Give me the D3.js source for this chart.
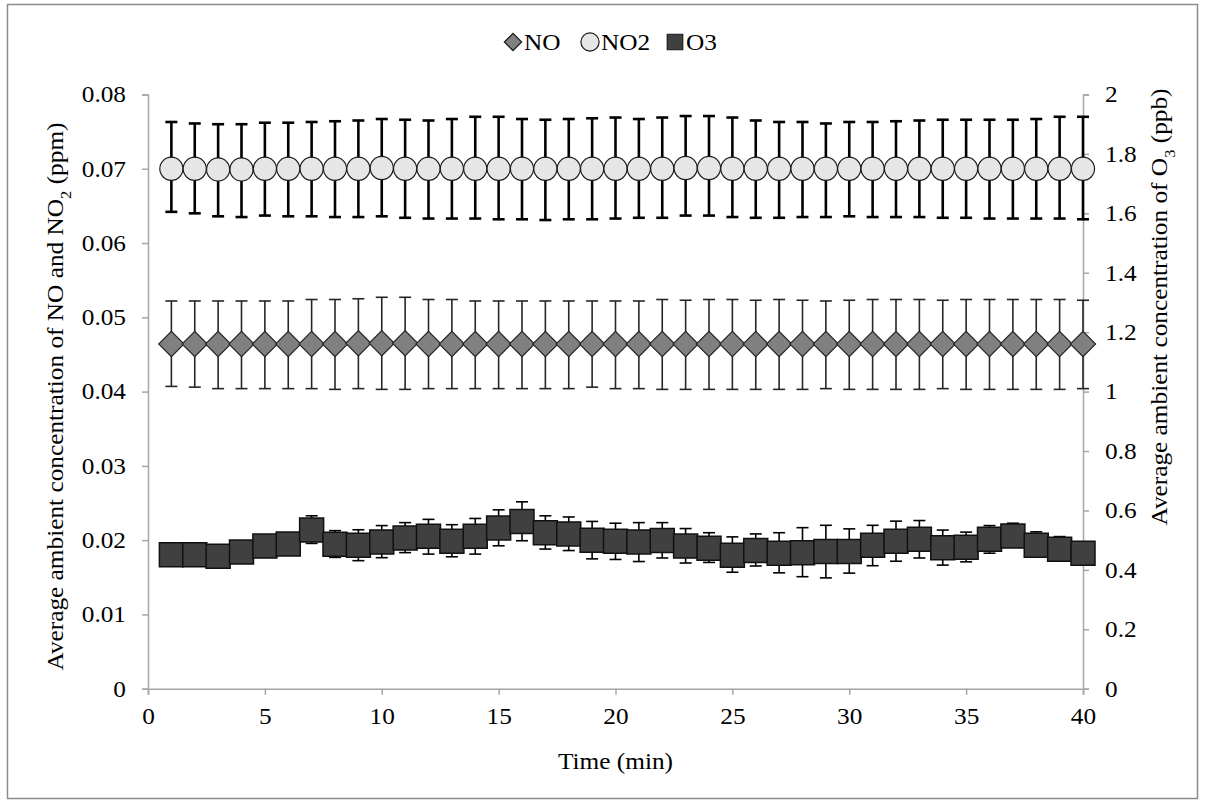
<!DOCTYPE html>
<html>
<head>
<meta charset="utf-8">
<script src="https://cdn.jsdelivr.net/npm/d3@7/dist/d3.min.js"></script>
<style>
  body { margin: 0; background: #fff; }
  text { font-family: 'Liberation Serif', 'Times New Roman', serif; fill: #000; }
</style>
</head>
<body>
<div id="chart"></div>
<script>
// time (min)
var time = [1, 2, 3, 4, 5, 6, 7, 8, 9, 10, 11, 12, 13, 14, 15, 16, 17, 18, 19, 20,
  21, 22, 23, 24, 25, 26, 27, 28, 29, 30, 31, 32, 33, 34, 35, 36, 37, 38, 39, 40]

// NO (ppm), left axis
var no = [0.0464, 0.0464, 0.0464, 0.0464, 0.0464, 0.0464, 0.0464, 0.0464, 0.0465, 0.0465,
  0.0465, 0.0464, 0.0464, 0.0464, 0.0464, 0.0464, 0.0464, 0.0464, 0.0464, 0.0464,
  0.0464, 0.0464, 0.0464, 0.0464, 0.0464, 0.0464, 0.0464, 0.0464, 0.0464, 0.0464,
  0.0464, 0.0464, 0.0464, 0.0464, 0.0464, 0.0464, 0.0464, 0.0464, 0.0464, 0.0464]
var noUp = [0.0058, 0.0058, 0.0058, 0.0058, 0.0058, 0.0058, 0.0060, 0.0060, 0.0060, 0.0062,
  0.0062, 0.0060, 0.0060, 0.0058, 0.0058, 0.0058, 0.0058, 0.0058, 0.0058, 0.0058,
  0.0058, 0.0060, 0.0059, 0.0060, 0.0060, 0.0059, 0.0060, 0.0059, 0.0058, 0.0059,
  0.0060, 0.0060, 0.0060, 0.0059, 0.0060, 0.0060, 0.0060, 0.0060, 0.0060, 0.0059]
var noDown = [0.0057, 0.0058, 0.0060, 0.0060, 0.0060, 0.0060, 0.0060, 0.0061, 0.0061, 0.0062,
  0.0062, 0.0060, 0.0060, 0.0060, 0.0060, 0.0060, 0.0060, 0.0060, 0.0058, 0.0060,
  0.0060, 0.0061, 0.0061, 0.0061, 0.0061, 0.0061, 0.0061, 0.0061, 0.0060, 0.0061,
  0.0061, 0.0061, 0.0061, 0.0060, 0.0061, 0.0061, 0.0061, 0.0061, 0.0061, 0.0060]

// NO2 (ppm), left axis
var no2 = [0.0700, 0.0700, 0.0699, 0.0699, 0.0700, 0.0700, 0.0700, 0.0700, 0.0700, 0.0701,
  0.0700, 0.0700, 0.0700, 0.0700, 0.0700, 0.0700, 0.0700, 0.0700, 0.0700, 0.0700,
  0.0700, 0.0700, 0.0701, 0.0701, 0.0700, 0.0700, 0.0700, 0.0700, 0.0700, 0.0700,
  0.0700, 0.0700, 0.0700, 0.0700, 0.0700, 0.0700, 0.0700, 0.0700, 0.0700, 0.0700]
var no2Up = [0.0063, 0.0061, 0.0061, 0.0061, 0.0062, 0.0062, 0.0063, 0.0064, 0.0065, 0.0066,
  0.0066, 0.0065, 0.0067, 0.0070, 0.0070, 0.0067, 0.0066, 0.0067, 0.0068, 0.0069,
  0.0067, 0.0069, 0.0070, 0.0070, 0.0069, 0.0065, 0.0063, 0.0063, 0.0061, 0.0063,
  0.0063, 0.0064, 0.0065, 0.0066, 0.0066, 0.0066, 0.0066, 0.0067, 0.0070, 0.0070]
var no2Down = [0.0058, 0.0060, 0.0063, 0.0064, 0.0063, 0.0064, 0.0064, 0.0065, 0.0065, 0.0065,
  0.0066, 0.0067, 0.0067, 0.0067, 0.0068, 0.0068, 0.0069, 0.0068, 0.0068, 0.0067,
  0.0066, 0.0066, 0.0064, 0.0064, 0.0065, 0.0066, 0.0066, 0.0065, 0.0065, 0.0064,
  0.0065, 0.0065, 0.0065, 0.0066, 0.0066, 0.0067, 0.0067, 0.0067, 0.0067, 0.0068]

// O3 (ppb), right axis
var o3 = [0.451, 0.451, 0.446, 0.460, 0.480, 0.487, 0.534, 0.486, 0.483, 0.494,
  0.507, 0.513, 0.496, 0.513, 0.541, 0.563, 0.525, 0.521, 0.500, 0.496,
  0.494, 0.499, 0.480, 0.473, 0.449, 0.465, 0.456, 0.458, 0.462, 0.462,
  0.483, 0.496, 0.503, 0.474, 0.476, 0.503, 0.514, 0.483, 0.469, 0.456]
var o3Up = [0.030, 0.030, 0.030, 0.030, 0.030, 0.030, 0.048, 0.046, 0.052, 0.055,
  0.052, 0.057, 0.056, 0.060, 0.061, 0.066, 0.057, 0.057, 0.063, 0.061,
  0.065, 0.060, 0.059, 0.052, 0.062, 0.056, 0.069, 0.084, 0.088, 0.076,
  0.067, 0.068, 0.063, 0.060, 0.051, 0.046, 0.043, 0.045, 0.043, 0.030]
var o3Down = [0.030, 0.030, 0.030, 0.030, 0.030, 0.030, 0.045, 0.044, 0.052, 0.053,
  0.049, 0.060, 0.052, 0.060, 0.060, 0.065, 0.055, 0.056, 0.063, 0.061,
  0.066, 0.059, 0.057, 0.048, 0.057, 0.052, 0.066, 0.081, 0.089, 0.073,
  0.069, 0.067, 0.063, 0.058, 0.049, 0.047, 0.030, 0.030, 0.030, 0.030]

var xTicks = [0, 5, 10, 15, 20, 25, 30, 35, 40]
var leftTicks = [0, 0.01, 0.02, 0.03, 0.04, 0.05, 0.06, 0.07, 0.08]
var rightTicks = [0, 0.2, 0.4, 0.6, 0.8, 1, 1.2, 1.4, 1.6, 1.8, 2]
var legendNames = ['NO', 'NO2', 'O3']

var W = 1205
var H = 803
var margin = {top: 94.5, right: 122, bottom: 114.3, left: 148}
var width = W - margin.left - margin.right
var height = H - margin.top - margin.bottom
var axisColor = '#a6a6a6'
var font = 23
var widen = 1.1

// the reference type runs a little wider than Times; stretch each text along its run
function stretch (sel) {
  sel.each(function () {
    var len = this.getComputedTextLength()
    d3.select(this).attr('textLength', len * widen).attr('lengthAdjust', 'spacingAndGlyphs')
  })
}

var svg = d3.select('#chart')
  .append('svg')
  .attr('width', W)
  .attr('height', H)

// chart border
svg.append('rect')
  .attr('x', 7.5)
  .attr('y', 4.5)
  .attr('width', W - 15)
  .attr('height', H - 9)
  .attr('fill', 'none')
  .attr('stroke', '#8c8c8c')
  .attr('stroke-width', 1.5)

var g = svg.append('g')
  .attr('transform', 'translate(' + margin.left + ',' + margin.top + ')')

var x = d3.scaleLinear().domain([0, 40]).range([0, width])
var yL = d3.scaleLinear().domain([0, 0.08]).range([height, 0])
var yR = d3.scaleLinear().domain([0, 2]).range([height, 0])

// axes
var xAxis = g.append('g')
  .attr('transform', 'translate(0,' + height + ')')
  .call(d3.axisBottom(x).tickValues(xTicks).tickSize(6).tickPadding(13).tickFormat(d3.format('d')))
var lAxis = g.append('g')
  .call(d3.axisLeft(yL).tickValues(leftTicks).tickSize(6).tickPadding(16)
    .tickFormat(function (d) { return d === 0 ? '0' : d3.format('.2f')(d) }))
var rAxis = g.append('g')
  .attr('transform', 'translate(' + width + ',0)')
  .call(d3.axisRight(yR).tickValues(rightTicks).tickSize(6).tickPadding(16)
    .tickFormat(function (d) { return String(+d.toFixed(1)) }))

;[xAxis, lAxis, rAxis].forEach(function (a) {
  a.select('.domain').attr('stroke', axisColor).attr('stroke-width', 1.5)
  a.selectAll('.tick line').attr('stroke', axisColor).attr('stroke-width', 1.5)
  a.selectAll('.tick text')
    .attr('fill', '#000')
    .style('font-family', "'Liberation Serif', serif")
    .style('font-size', font + 'px')
    .call(stretch)
})
xAxis.selectAll('.tick text').attr('dy', '0.71em')

// axis titles
g.append('text')
  .attr('x', width / 2)
  .attr('y', height + 80)
  .attr('text-anchor', 'middle')
  .style('font-size', font + 'px')
  .text('Time (min)')
  .call(stretch)

var lt = g.append('text')
  .attr('transform', 'translate(' + (63 - margin.left) + ',' + (302) + ') rotate(-90)')
  .attr('text-anchor', 'middle')
  .style('font-size', font + 'px')
lt.append('tspan').text('Average ambient concentration of NO and NO')
lt.append('tspan').attr('baseline-shift', 'sub').style('font-size', '15px').text('2')
lt.append('tspan').text(' (ppm)')
lt.call(stretch)

var rt = g.append('text')
  .attr('transform', 'translate(' + (width + 84) + ',' + (-6) + ') rotate(-90)')
  .attr('text-anchor', 'end')
  .style('font-size', font + 'px')
rt.append('tspan').text('Average ambient concentration of O')
rt.append('tspan').attr('baseline-shift', 'sub').style('font-size', '15px').text('3')
rt.append('tspan').text(' (ppb)')
rt.call(stretch)

// error bars
function errorBars (vals, up, down, scale, color, sw) {
  var eg = g.append('g')
  time.forEach(function (t, i) {
    var cx = x(t)
    var y1 = scale(vals[i] + up[i])
    var y2 = scale(vals[i] - down[i])
    eg.append('line').attr('x1', cx).attr('x2', cx).attr('y1', y1).attr('y2', y2)
      .attr('stroke', color).attr('stroke-width', sw)
    eg.append('line').attr('x1', cx - 6).attr('x2', cx + 6).attr('y1', y1).attr('y2', y1)
      .attr('stroke', color).attr('stroke-width', sw)
    eg.append('line').attr('x1', cx - 6).attr('x2', cx + 6).attr('y1', y2).attr('y2', y2)
      .attr('stroke', color).attr('stroke-width', sw)
  })
}

var diamond = d3.symbol().type(d3.symbolSquare).size(318)
var circle = d3.symbol().type(d3.symbolCircle).size(420)
var square = d3.symbol().type(d3.symbolSquare).size(576)

// NO
errorBars(no, noUp, noDown, yL, '#262626', 1.6)
g.append('g').selectAll('path')
  .data(no)
  .enter()
  .append('path')
  .attr('d', diamond)
  .attr('transform', function (d, i) { return 'translate(' + x(time[i]) + ',' + yL(d) + ') rotate(45)' })
  .attr('fill', '#808080')
  .attr('stroke', '#262626')
  .attr('stroke-width', 1.2)

// NO2
errorBars(no2, no2Up, no2Down, yL, '#000', 2.6)
g.append('g').selectAll('path')
  .data(no2)
  .enter()
  .append('path')
  .attr('d', circle)
  .attr('transform', function (d, i) { return 'translate(' + x(time[i]) + ',' + yL(d) + ')' })
  .attr('fill', '#e6e6e6')
  .attr('stroke', '#1a1a1a')
  .attr('stroke-width', 1.2)

// O3
errorBars(o3, o3Up, o3Down, yR, '#000', 1.6)
g.append('g').selectAll('path')
  .data(o3)
  .enter()
  .append('path')
  .attr('d', square)
  .attr('transform', function (d, i) { return 'translate(' + x(time[i]) + ',' + yR(d) + ')' })
  .attr('fill', '#404040')
  .attr('stroke', '#111')
  .attr('stroke-width', 1.5)

// legend
var legend = svg.append('g').attr('transform', 'translate(0,42)')
var legX = [513, 590, 675]
var legShapes = [
  {sym: d3.symbol().type(d3.symbolSquare).size(150), rot: 45, fill: '#808080'},
  {sym: d3.symbol().type(d3.symbolCircle).size(260), rot: 0, fill: '#e6e6e6'},
  {sym: d3.symbol().type(d3.symbolSquare).size(240), rot: 0, fill: '#404040'}
]
legendNames.forEach(function (name, i) {
  legend.append('path')
    .attr('d', legShapes[i].sym)
    .attr('transform', 'translate(' + legX[i] + ',0) rotate(' + legShapes[i].rot + ')')
    .attr('fill', legShapes[i].fill)
    .attr('stroke', '#1a1a1a')
    .attr('stroke-width', 1.2)
  legend.append('text')
    .attr('x', legX[i] + 11)
    .attr('y', 0)
    .attr('dy', '0.35em')
    .style('font-size', font + 'px')
    .text(name)
    .call(stretch)
})
</script>
</body>
</html>
